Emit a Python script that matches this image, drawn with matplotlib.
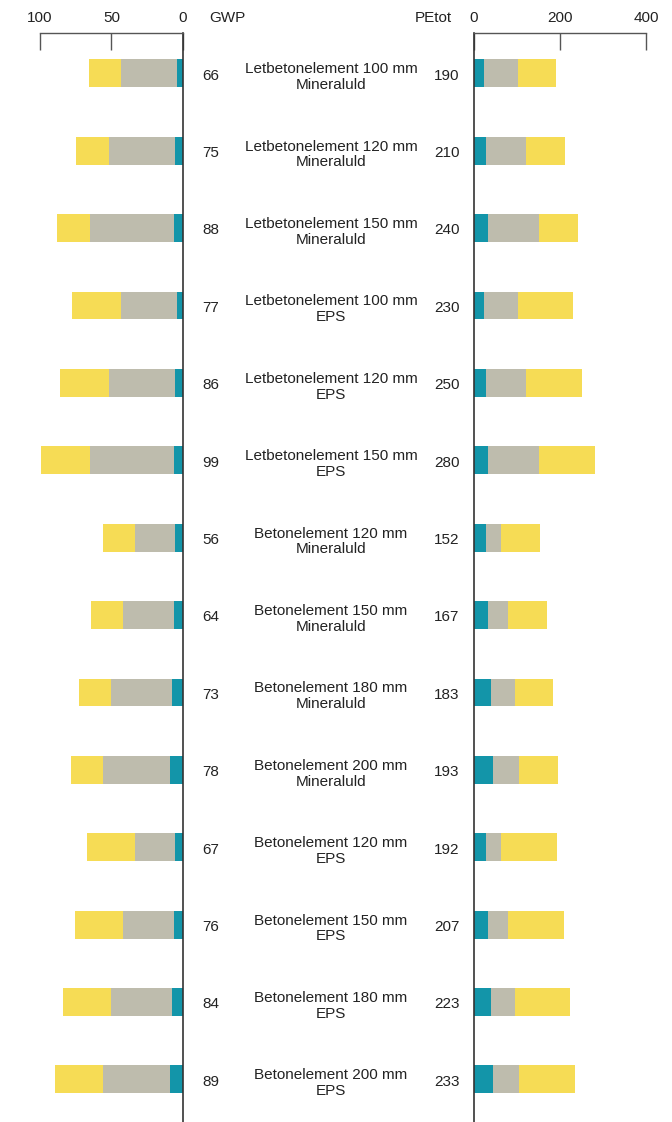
import numpy as np
import matplotlib.pyplot as plt
from matplotlib.transforms import blended_transform_factory

plt.rcParams['font.family'] = ['Liberation Sans', 'DejaVu Sans']

labels = [
    'Letbetonelement 100 mm\nMineraluld', 'Letbetonelement 120 mm\nMineraluld',
    'Letbetonelement 150 mm\nMineraluld', 'Letbetonelement 100 mm\nEPS',
    'Letbetonelement 120 mm\nEPS', 'Letbetonelement 150 mm\nEPS',
    'Betonelement 120 mm\nMineraluld', 'Betonelement 150 mm\nMineraluld',
    'Betonelement 180 mm\nMineraluld', 'Betonelement 200 mm\nMineraluld',
    'Betonelement 120 mm\nEPS', 'Betonelement 150 mm\nEPS',
    'Betonelement 180 mm\nEPS', 'Betonelement 200 mm\nEPS',
]
gwp_total = [66, 75, 88, 77, 86, 99, 56, 64, 73, 78, 67, 76, 84, 89]
gwp_teal = [4.4, 5.8, 6.5, 4.4, 5.8, 6.5, 5.8, 6.5, 7.9, 9.3, 5.8, 6.5, 7.9, 9.3]
gwp_grey = [39, 46, 58.6, 39, 46, 58.6, 28, 35.6, 42.6, 46.7, 28, 35.6, 42.6, 46.7]
gwp_yellow = [22.4, 23, 23, 34, 34, 34, 22, 22.3, 22.3, 22.4, 33.5, 33.5, 33.5, 33.5]

pe_total = [190, 210, 240, 230, 250, 280, 152, 167, 183, 193, 192, 207, 223, 233]
pe_teal = [22.5, 27, 32, 22.5, 27, 32, 27, 32, 39, 43.4, 27, 32, 39, 43.4]
pe_grey = [79, 93, 118.6, 79, 93, 118.6, 35, 46.5, 56, 60.5, 35, 46.5, 56, 60.5]
pe_yellow = [88.5, 91, 90.6, 128, 130, 130, 90.7, 90.7, 88, 90.7, 130, 130, 128, 130]

TEAL = '#1395a9'
GREY = '#bebcad'
YELLOW = '#f6dc55'
TXT = '#222222'
W, H = 672, 1122

fig = plt.figure(figsize=(W / 100, H / 100), dpi=100)
top = (H - 33) / H
axL = fig.add_axes([40 / W, 0, 143 / W, top])
axR = fig.add_axes([474 / W, 0, 172 / W, top])

y = np.arange(len(labels))
bh = 0.36

# left panel: GWP, reversed axis
t = np.array(gwp_teal)
g = np.array(gwp_grey)
axL.barh(y, t, height=bh, color=TEAL)
axL.barh(y, g, left=t, height=bh, color=GREY)
axL.barh(y, gwp_yellow, left=t + g, height=bh, color=YELLOW)
axL.set_xlim(100, 0)
axL.set_xticks([100, 50, 0])

# right panel: PEtot
t = np.array(pe_teal)
g = np.array(pe_grey)
axR.barh(y, t, height=bh, color=TEAL)
axR.barh(y, g, left=t, height=bh, color=GREY)
axR.barh(y, pe_yellow, left=t + g, height=bh, color=YELLOW)
axR.set_xlim(0, 400)
axR.set_xticks([0, 200, 400])

for ax, side in [(axL, 'right'), (axR, 'left')]:
    ax.set_ylim(13.55, -0.52)
    ax.set_yticks([])
    for s in ['left', 'right', 'bottom']:
        ax.spines[s].set_visible(s == side)
    ax.spines[side].set_color('#333333')
    ax.spines[side].set_linewidth(1.2)
    ax.spines['top'].set_color('#555555')
    ax.spines['top'].set_linewidth(1.0)
    ax.xaxis.tick_top()
    ax.tick_params(axis='x', direction='in', length=12, width=1.0,
                   color='#555555', labelsize=11, pad=6, labelcolor=TXT)
    ax.set_facecolor('none')

tr = blended_transform_factory(fig.transFigure, axL.transData)
for i in range(len(labels)):
    fig.text(211 / W, i + 0.03, str(gwp_total[i]), transform=tr, ha='center',
             va='center', fontsize=11, color=TXT)
    fig.text(331 / W, i + 0.05, labels[i], transform=tr, ha='center',
             va='center', fontsize=11, color=TXT, linespacing=1.15)
    fig.text(447 / W, i + 0.03, str(pe_total[i]), transform=tr, ha='center',
             va='center', fontsize=11, color=TXT)

fig.text(227 / W, 1 - 18 / H, 'GWP', ha='center', va='center', fontsize=11,
         color=TXT)
fig.text(433 / W, 1 - 18 / H, 'PEtot', ha='center', va='center', fontsize=11,
         color=TXT)

fig.savefig('out.png', dpi=100)
